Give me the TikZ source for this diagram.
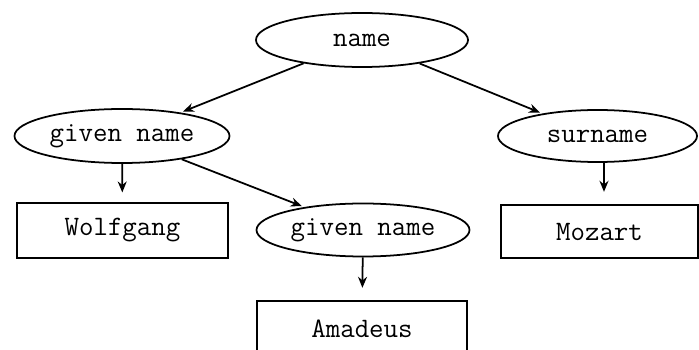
\documentclass[tikz,border=0pt]{standalone}
\usetikzlibrary{shapes.geometric,arrows.meta}

\begin{document}
\begin{tikzpicture}[scale=0.2]
\tikzstyle{every node}+=[inner sep=0pt,font=\ttfamily\fontsize{16}{18}\selectfont]
\tikzstyle{field}=[draw=black,line width=1pt,ellipse,minimum height=1.08cm]
\tikzstyle{value}=[draw=black,line width=1pt,rectangle,minimum height=1.1cm]
\tikzstyle{link}=[black,line width=1pt,-{Stealth[length=2.2mm,width=1.8mm]}]
\clip (0,0) rectangle (69.9,-35);
\node [field,minimum width=4.24cm] (name) at (36.2,-4.0) {name};
\node [field,minimum width=4.3cm] (given) at (12.2,-13.6) {given name};
\node [field,minimum width=3.98cm,minimum height=1.04cm] (surname) at (59.75,-13.6) {surname};
\node [field,minimum width=4.26cm,minimum height=1.06cm] (given2) at (36.3,-23.0) {given name};
\node [value,minimum width=4.22cm] (wolfgang) at (12.25,-23.05) {Wolfgang};
\node [value,minimum width=3.94cm,minimum height=1.06cm] (mozart) at (59.95,-23.15) {Mozart};
\node [value,minimum width=4.2cm] (amadeus) at (36.2,-32.85) {Amadeus};
\draw [link,shorten >=1.5pt] (name) -- (given);
\draw [link,shorten >=1.5pt] (name) -- (surname);
\draw [link,shorten >=1.5pt] (given) -- (given2);
\draw [link,shorten >=5.5pt] (given) -- (wolfgang);
\draw [link,shorten >=7pt] (given2) -- (amadeus);
\draw [link,shorten >=7pt] (surname.south -| 60.4,0) -- (mozart.north -| 60.4,0);
\end{tikzpicture}
\end{document}
